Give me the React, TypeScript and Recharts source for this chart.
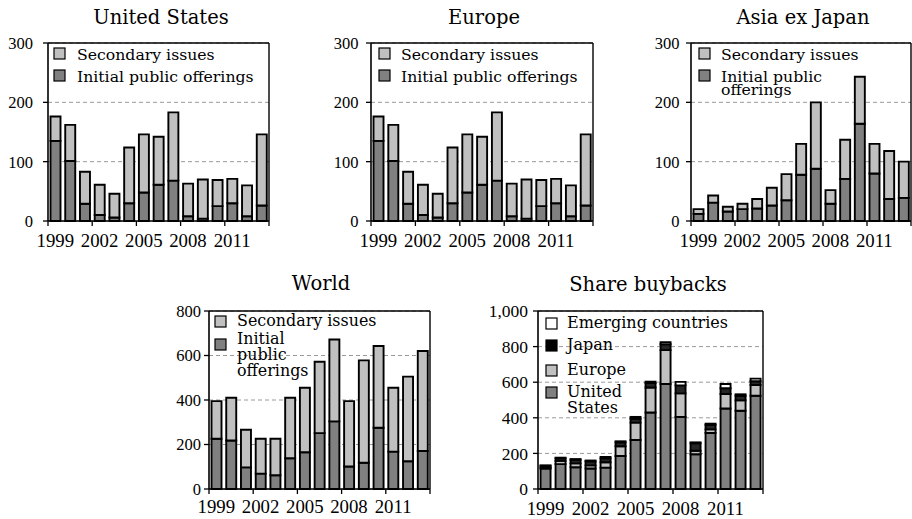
import React from 'react';
import { BarChart, Bar, XAxis, YAxis, CartesianGrid, Legend } from 'recharts';

// ---------- data ----------
const years = ['1999', '2000', '2001', '2002', '2003', '2004', '2005', '2006', '2007', '2008', '2009', '2010', '2011', '2012', '2013'];

const usIPO = [135, 101, 29, 10, 6, 30, 48, 61, 68, 8, 4, 25, 30, 8, 26];
const usSecondary = [41, 61, 54, 51, 40, 94, 98, 81, 115, 55, 66, 44, 41, 52, 120];

const europeIPO = [135, 101, 29, 10, 6, 30, 48, 61, 68, 8, 4, 25, 30, 8, 26];
const europeSecondary = [41, 61, 54, 51, 40, 94, 98, 81, 115, 55, 66, 44, 41, 52, 120];

const asiaIPO = [12, 31, 16, 20, 21, 26, 35, 78, 88, 29, 71, 164, 80, 37, 39];
const asiaSecondary = [8, 12, 8, 9, 16, 30, 44, 52, 112, 23, 66, 79, 50, 81, 61];

const worldIPO = [226, 218, 97, 69, 62, 138, 165, 251, 304, 101, 118, 275, 168, 125, 171];
const worldSecondary = [169, 192, 169, 157, 164, 272, 290, 321, 368, 294, 460, 368, 287, 380, 449];

const buybackUS = [115, 140, 122, 115, 120, 185, 275, 430, 590, 405, 195, 315, 452, 440, 524];
const buybackEurope = [4, 18, 22, 18, 30, 55, 98, 140, 190, 132, 20, 20, 82, 58, 60];
const buybackJapan = [12, 14, 20, 22, 22, 22, 22, 25, 33, 45, 42, 25, 32, 26, 21];
const buybackEmerging = [2, 4, 4, 5, 8, 6, 10, 8, 12, 20, 5, 7, 24, 8, 15];

const issueTicks = [0, 100, 200, 300];
const worldTicks = [0, 200, 400, 600, 800];
const buybackTicks = [0, 200, 400, 600, 800, 1000];

const labelSecondary = 'Secondary issues';
const labelIPO = 'Initial public offerings';

// ---------- styles ----------
const WORD_FONT = '"DejaVu Serif", serif';
const NUM_FONT = '"Liberation Serif", serif';
const DARK = '#808080';
const LIGHT = '#c0c0c0';
const JAPAN = '#262626';
const WHITE = '#ffffff';
const TICK_STEP = 3;

type Series = { key: string; color: string; values: number[] };
type LegendRow = { lines: string[]; color: string; markerY: number; baselines: number[] };
type Plot = { left: number; top: number; w: number; h: number };

const buildData = (series: Series[]) =>
  years.map((y, i) => {
    const row: Record<string, any> = { year: y };
    series.forEach((s) => (row[s.key] = s.values[i]));
    return row;
  });

const renderXTick = (p: any, fontSize: number, labelDy: number) => {
  const x = Number(p.x);
  const y = Number(p.y);
  const value = String(p.payload?.value);
  return (
    <text key={value} x={x} y={y + labelDy} textAnchor="middle" fontFamily={NUM_FONT} fontSize={fontSize} fill="#000">
      {value}
    </text>
  );
};

// Legend overlay sits exactly on the plot area; it also carries the plot frame
// (top/right edges) and the x-axis boundary tick marks.
const LegendBox = ({ rows, markerX, textX, w, h, fontSize }: { rows: LegendRow[]; markerX: number; textX: number; w: number; h: number; fontSize: number }) => {
  const bandW = w / years.length;
  const boundaries: number[] = [];
  for (let k = 0; k <= years.length; k += TICK_STEP) boundaries.push(k * bandW);
  return (
    <svg width={w} height={h} style={{ overflow: 'visible', display: 'block' }}>
      <line x1={0} x2={w} y1={0} y2={0} stroke="#000" strokeWidth={1.4} />
      <line x1={w} x2={w} y1={0} y2={h} stroke="#000" strokeWidth={1.4} />
      {boundaries.map((bx, i) => (
        <line key={`t${i}`} x1={bx} x2={bx} y1={h} y2={h + 5} stroke="#000" strokeWidth={1.3} />
      ))}
      {rows.map((r, i) => (
        <g key={i}>
          <rect x={markerX} y={r.markerY} width={11} height={11} fill={r.color} stroke="#000" strokeWidth={1.2} />
          {r.lines.map((ln, j) => (
            <text key={j} x={textX} y={r.baselines[j]} fontFamily={WORD_FONT} fontSize={fontSize} fill="#000">
              {ln}
            </text>
          ))}
        </g>
      ))}
    </svg>
  );
};

type PanelProps = {
  plot: Plot;
  series: Series[];
  yTicks: number[];
  yTickMargin: number;
  yFontSize: number;
  legendRows: LegendRow[];
  markerX: number;
  textX: number;
  legendFont: number;
  labelDy: number;
};

const Panel = ({ plot, series, yTicks, yTickMargin, yFontSize, legendRows, markerX, textX, legendFont, labelDy }: PanelProps) => {
  const data = buildData(series);
  const yMax = yTicks[yTicks.length - 1];
  const mTop = 12;
  const yw = 60;
  const xh = 35;
  return (
    <div style={{ position: 'absolute', left: plot.left - yw, top: plot.top - mTop }}>
      <BarChart
        width={plot.w + yw + 10}
        height={plot.h + mTop + xh}
        data={data}
        margin={{ top: mTop, right: 10, left: 0, bottom: 0 }}
        barCategoryGap="17%"
      >
        <CartesianGrid vertical={false} stroke="#9a9a9a" strokeDasharray="4 3" strokeWidth={1} />
        <YAxis
          width={yw}
          domain={[0, yMax]}
          ticks={yTicks}
          interval={0}
          tickSize={5}
          tickMargin={yTickMargin}
          tickLine={{ stroke: '#000', strokeWidth: 1.3 }}
          axisLine={{ stroke: '#000', strokeWidth: 1.6 }}
          tick={{ fontFamily: NUM_FONT, fontSize: yFontSize, fill: '#000' }}
          tickFormatter={(v: number) => v.toLocaleString('en-US')}
        />
        {series.map((s) => (
          <Bar key={s.key} dataKey={s.key} stackId="a" fill={s.color} stroke="#000" strokeWidth={1.9} isAnimationActive={false} />
        ))}
        <XAxis
          dataKey="year"
          interval={TICK_STEP - 1}
          height={xh}
          tickLine={false}
          tickSize={0}
          tickMargin={0}
          axisLine={{ stroke: '#000', strokeWidth: 1.6 }}
          tick={(p: any) => renderXTick(p, 18.8, labelDy)}
        />
        <Legend
          layout="vertical"
          align="center"
          verticalAlign="middle"
          wrapperStyle={{ position: 'absolute', left: yw, top: mTop, width: plot.w, height: plot.h }}
          content={() => <LegendBox rows={legendRows} markerX={markerX} textX={textX} w={plot.w} h={plot.h} fontSize={legendFont} />}
        />
      </BarChart>
    </div>
  );
};

const issueRows = (wrap: boolean): LegendRow[] => [
  { lines: [labelSecondary], color: LIGHT, markerY: 5, baselines: [16.5] },
  wrap
    ? { lines: ['Initial public', 'offerings'], color: DARK, markerY: 27, baselines: [39, 52] }
    : { lines: [labelIPO], color: DARK, markerY: 27, baselines: [39] },
];

const worldRows: LegendRow[] = [
  { lines: [labelSecondary], color: LIGHT, markerY: 5, baselines: [14.5] },
  { lines: ['Initial', 'public', 'offerings'], color: DARK, markerY: 28, baselines: [33, 49, 65] },
];

const buybackRows: LegendRow[] = [
  { lines: ['Emerging countries'], color: WHITE, markerY: 7, baselines: [17] },
  { lines: ['Japan'], color: '#000', markerY: 29, baselines: [39] },
  { lines: ['Europe'], color: LIGHT, markerY: 54, baselines: [64] },
  { lines: ['United', 'States'], color: DARK, markerY: 76, baselines: [86, 102] },
];

const titles = [
  { text: 'United States', x: 161, y: 24 },
  { text: 'Europe', x: 484, y: 24 },
  { text: 'Asia ex Japan', x: 803, y: 24 },
  { text: 'World', x: 321, y: 290 },
  { text: 'Share buybacks', x: 648, y: 291 },
];

export default function App() {
  return (
    <div style={{ position: 'absolute', left: 0, top: 0, width: 912, height: 519, overflow: 'hidden', background: '#fff' }}>
      <svg width={912} height={519} style={{ position: 'absolute', left: 0, top: 0 }}>
        {titles.map((t) => (
          <text key={t.text} x={t.x} y={t.y} textAnchor="middle" fontFamily={WORD_FONT} fontSize={19.5} fill="#000">
            {t.text}
          </text>
        ))}
      </svg>
      <Panel
        plot={{ left: 48, top: 43, w: 221, h: 178 }}
        series={[
          { key: 'ipo', color: DARK, values: usIPO },
          { key: 'secondary', color: LIGHT, values: usSecondary },
        ]}
        yTicks={issueTicks}
        yTickMargin={10}
        yFontSize={16.5}
        legendRows={issueRows(false)}
        markerX={6}
        textX={29}
        legendFont={15.7}
        labelDy={26}
      />
      <Panel
        plot={{ left: 371, top: 43, w: 222, h: 178 }}
        series={[
          { key: 'ipo', color: DARK, values: europeIPO },
          { key: 'secondary', color: LIGHT, values: europeSecondary },
        ]}
        yTicks={issueTicks}
        yTickMargin={7.5}
        yFontSize={16.5}
        legendRows={issueRows(false)}
        markerX={8}
        textX={30}
        legendFont={15.7}
        labelDy={26}
      />
      <Panel
        plot={{ left: 691, top: 43, w: 220, h: 178 }}
        series={[
          { key: 'ipo', color: DARK, values: asiaIPO },
          { key: 'secondary', color: LIGHT, values: asiaSecondary },
        ]}
        yTicks={issueTicks}
        yTickMargin={6.5}
        yFontSize={16.5}
        legendRows={issueRows(true)}
        markerX={8}
        textX={30}
        legendFont={15.7}
        labelDy={26}
      />
      <Panel
        plot={{ left: 209, top: 311, w: 221, h: 178 }}
        series={[
          { key: 'ipo', color: DARK, values: worldIPO },
          { key: 'secondary', color: LIGHT, values: worldSecondary },
        ]}
        yTicks={worldTicks}
        yTickMargin={3}
        yFontSize={16.5}
        legendRows={worldRows}
        markerX={6}
        textX={28}
        legendFont={15.9}
        labelDy={24}
      />
      <Panel
        plot={{ left: 538, top: 311, w: 225, h: 178 }}
        series={[
          { key: 'us', color: DARK, values: buybackUS },
          { key: 'europe', color: LIGHT, values: buybackEurope },
          { key: 'japan', color: JAPAN, values: buybackJapan },
          { key: 'emerging', color: WHITE, values: buybackEmerging },
        ]}
        yTicks={buybackTicks}
        yTickMargin={5}
        yFontSize={17.5}
        legendRows={buybackRows}
        markerX={8}
        textX={29}
        legendFont={16}
        labelDy={26}
      />
    </div>
  );
}
